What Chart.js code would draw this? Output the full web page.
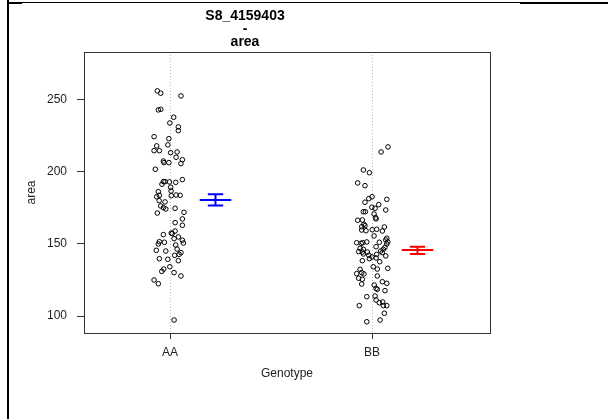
<!DOCTYPE html>
<html>
<head>
<meta charset="utf-8">
<script src="https://cdn.jsdelivr.net/npm/chart.js@4"></script>
<style>
  body { margin: 0; background: #fff; }
  #wrap { position: relative; width: 608px; height: 419px; }
  canvas { position: absolute; left: 0; top: 0; }
  .frame { position: absolute; background: #000; }
</style>
</head>
<body>
<div id="wrap">
  <canvas id="chart" width="608" height="419"></canvas>
  <div class="frame" style="left:7px;top:0;width:2px;height:419px"></div>
  <div class="frame" style="left:7px;top:2px;width:15px;height:2px"></div>
  <div class="frame" style="left:22px;top:2px;width:498px;height:1px"></div>
  <div class="frame" style="left:520px;top:2px;width:88px;height:2px"></div>
</div>
<script>
// categories and axis ticks
const genotypes = ['AA', 'BB'];
const yTicks = [100, 150, 200, 250];

// jittered x position (category units) and area of each AA plant
const aaJitter = [0.937, 0.954, 1.054, 0.942, 0.954, 1.018, 0.999, 1.041, 1.041, 0.921,
    0.994, 0.934, 0.989, 0.921, 0.947, 1.003, 1.035, 1.030, 1.061, 0.967,
    0.970, 0.994, 1.054, 0.927, 0.967, 0.975, 0.997, 1.028, 1.061, 0.960,
    1.003, 0.942, 1.005, 0.934, 0.947, 1.006, 1.030, 1.050, 0.946, 0.975,
    0.954, 0.967, 0.979, 1.025, 1.069, 0.937, 1.061, 1.025, 1.061, 1.025,
    1.006, 1.011, 0.967, 1.020, 1.041, 1.061, 0.947, 0.972, 1.066, 0.942,
    1.028, 1.035, 0.932, 0.979, 1.054, 1.045, 1.023, 0.947, 0.989, 1.041,
    0.999, 0.969, 0.959, 1.020, 1.054, 0.921, 0.942, 1.020];
const aaArea = [256.3, 254.7, 252.8, 243.1, 243.5, 238.0, 234.0, 231.3, 228.7, 224.5,
    223.1, 218.1, 218.8, 214.8, 214.8, 213.4, 213.9, 210.2, 208.5, 207.6,
    206.5, 206.5, 205.8, 201.9, 193.3, 193.3, 193.1, 192.8, 194.7, 191.5,
    189.4, 186.3, 186.8, 182.8, 183.8, 183.5, 184.0, 183.8, 180.1, 179.2,
    176.4, 175.2, 174.3, 174.8, 172.0, 171.5, 167.4, 164.8, 163.0, 159.0,
    157.6, 157.2, 156.5, 153.7, 154.9, 152.6, 151.6, 151.2, 150.7, 150.0,
    149.3, 146.5, 145.6, 145.1, 144.0, 142.8, 142.1, 139.8, 139.4, 138.4,
    134.2, 132.6, 131.0, 130.1, 127.8, 125.0, 122.4, 97.2];

// jittered x position and area of each BB plant
const bbJitter = [2.079, 2.045, 1.957, 1.987, 1.929, 1.965, 2.000, 1.984, 2.073, 1.965,
    2.033, 1.999, 2.015, 2.068, 1.957, 1.967, 2.010, 2.018, 2.020, 1.929,
    1.952, 1.960, 1.965, 1.949, 2.061, 1.949, 1.970, 2.001, 2.023, 2.051,
    2.010, 2.073, 2.068, 2.078, 1.924, 1.946, 1.954, 1.974, 2.036, 2.073,
    2.064, 2.020, 1.941, 1.957, 2.056, 2.043, 1.934, 1.952, 1.977, 2.051,
    2.023, 1.957, 1.984, 2.068, 2.000, 1.987, 2.020, 1.952, 2.038, 2.078,
    2.006, 2.026, 1.941, 1.949, 1.960, 1.924, 1.934, 1.952, 2.026, 2.011,
    2.051, 2.073, 1.949, 2.020, 2.026, 2.064, 1.974, 2.015, 2.020, 2.036,
    2.053, 1.937, 2.056, 2.073, 2.061, 1.974, 2.040];
const bbArea = [217.4, 213.9, 201.4, 199.5, 192.4, 190.5, 182.8, 181.5, 181.0, 179.0,
    177.3, 175.5, 174.8, 173.6, 172.4, 172.4, 170.8, 168.3, 167.4, 166.5,
    166.7, 163.7, 162.7, 162.0, 161.8, 159.7, 159.2, 159.9, 160.2, 159.0,
    155.6, 154.0, 152.8, 151.4, 150.9, 150.5, 150.9, 151.4, 151.2, 150.0,
    147.7, 148.1, 147.0, 146.3, 146.3, 145.1, 144.7, 144.4, 144.4, 144.0,
    142.8, 143.1, 142.2, 141.7, 141.0, 139.8, 140.3, 138.4, 137.7, 133.1,
    134.2, 132.6, 132.4, 130.1, 129.2, 129.4, 126.2, 125.5, 127.8, 121.5,
    123.8, 122.7, 122.2, 119.2, 118.5, 117.6, 113.4, 113.9, 111.1, 109.2,
    109.7, 107.2, 107.2, 107.2, 101.9, 96.0, 97.2];

// group mean and error bar limits, drawn beside each genotype
const meanPos = [1.225, 2.225];
const meanArea = [180.6, 145.8];
const lowArea = [176.7, 143.1];
const highArea = [184.5, 148.1];
const meanColors = ['#0000ff', '#ff0000'];

const barHalf = 0.078;
const capHalf = 0.038;
const gap = { x: null, y: null };

function errorBar(i) {
    const c = meanPos[i];
    return [
        { x: c - barHalf, y: meanArea[i] }, { x: c + barHalf, y: meanArea[i] }, gap,
        { x: c - capHalf, y: highArea[i] }, { x: c + capHalf, y: highArea[i] }, gap,
        { x: c - capHalf, y: lowArea[i] }, { x: c + capHalf, y: lowArea[i] }, gap,
        { x: c, y: lowArea[i] }, { x: c, y: highArea[i] }
    ];
}

function points(xs, ys) {
    return xs.map((x, i) => ({ x: x, y: ys[i] }));
}

const pointStyle = {
    pointRadius: 2.3,
    pointBorderWidth: 1,
    pointBorderColor: '#000',
    pointBackgroundColor: 'rgba(0,0,0,0)',
    pointHoverRadius: 2.3
};

const frameBox = {
    id: 'frameBox',
    afterDatasetsDraw(chart) {
        const a = chart.chartArea;
        const ctx = chart.ctx;
        ctx.save();
        ctx.strokeStyle = '#333';
        ctx.lineWidth = 1;
        ctx.strokeRect(Math.round(a.left) + 0.5, Math.round(a.top) + 0.5,
            Math.round(a.right - a.left), Math.round(a.bottom - a.top));
        ctx.restore();
    }
};

Chart.defaults.font.family = '"Liberation Sans", Arial, sans-serif';
Chart.defaults.color = '#222';

new Chart(document.getElementById('chart'), {
    type: 'scatter',
    data: {
        datasets: [
            Object.assign({ data: points(aaJitter, aaArea) }, pointStyle),
            Object.assign({ data: points(bbJitter, bbArea) }, pointStyle),
            {
                data: errorBar(0), showLine: true, spanGaps: false,
                borderColor: meanColors[0], borderWidth: 2, pointRadius: 0
            },
            {
                data: errorBar(1), showLine: true, spanGaps: false,
                borderColor: meanColors[1], borderWidth: 2, pointRadius: 0
            }
        ]
    },
    options: {
        responsive: false,
        animation: false,
        devicePixelRatio: 1,
        layout: { padding: { left: 0, right: 118, top: 0, bottom: 0 } },
        plugins: {
            legend: { display: false },
            tooltip: { enabled: false },
            title: {
                display: true,
                text: ['S8_4159403', '-', 'area'],
                color: '#000',
                font: { size: 14, weight: 'bold', lineHeight: '13px' },
                padding: { top: 9.5, bottom: 3.5 }
            }
        },
        scales: {
            x: {
                type: 'linear',
                min: 0.574,
                max: 2.584,
                afterBuildTicks: s => { s.ticks = genotypes.map((g, i) => ({ value: i + 1 })); },
                afterFit: s => { s.height = 86; },
                ticks: {
                    callback: v => genotypes[v - 1],
                    font: { size: 12 },
                    padding: 6,
                    maxRotation: 0
                },
                grid: {
                    color: '#bbb',
                    lineWidth: 1,
                    tickColor: '#333',
                    tickLength: 6,
                    tickBorderDash: []
                },
                border: { display: false, dash: [1, 2] },
                title: {
                    display: true,
                    text: 'Genotype',
                    font: { size: 12 },
                    padding: { top: 0, bottom: 37.8 }
                }
            },
            y: {
                min: 88.2,
                max: 283.3,
                afterBuildTicks: s => { s.ticks = yTicks.map(v => ({ value: v })); },
                afterFit: s => { s.width = 84; },
                ticks: {
                    font: { size: 12 },
                    padding: 10
                },
                grid: {
                    drawOnChartArea: false,
                    tickColor: '#333',
                    tickLength: 7
                },
                border: { display: false },
                title: {
                    display: true,
                    text: 'area',
                    font: { size: 12 },
                    padding: { top: 24.8, bottom: 0 }
                }
            }
        }
    },
    plugins: [frameBox]
});
</script>
</body>
</html>
